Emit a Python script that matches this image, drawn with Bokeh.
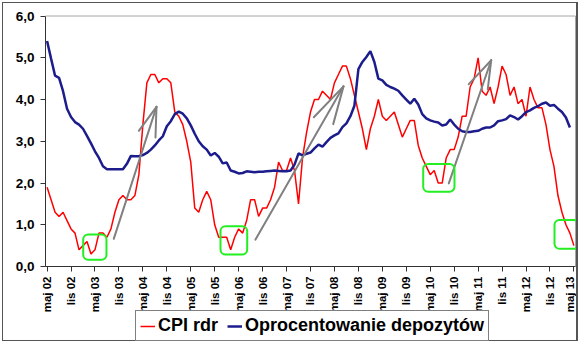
import numpy as np
from bokeh.plotting import figure
from bokeh.models import (Range1d, FixedTicker, BoxAnnotation, Legend, LegendItem)
from bokeh.embed import file_html
from bokeh.resources import INLINE

# ---------------- data ----------------
tick_labels = ["maj 02", "lis 02", "maj 03", "lis 03", "maj 04", "lis 04",
               "maj 05", "lis 05", "maj 06", "lis 06", "maj 07", "lis 07",
               "maj 08", "lis 08", "maj 09", "lis 09", "maj 10", "lis 10",
               "maj 11", "lis 11", "maj 12", "lis 12", "maj 13"]

# CPI r/r, monthly from May 2002
cpi = [1.9, 1.6, 1.3, 1.2, 1.3, 1.1, 0.9, 0.8, 0.4, 0.5,
       0.6, 0.3, 0.4, 0.8, 0.8, 0.7, 0.9, 1.3, 1.6, 1.7,
       1.6, 1.6, 1.7, 2.2, 3.4, 4.4, 4.6, 4.6, 4.4, 4.5,
       4.5, 4.4, 3.7, 3.6, 3.4, 3.0, 2.5, 1.4, 1.3, 1.6,
       1.8, 1.6, 1.0, 0.7, 0.7, 0.7, 0.4, 0.7, 0.9, 0.8,
       1.1, 1.6, 1.6, 1.2, 1.4, 1.4, 1.6, 1.9, 2.5, 2.3,
       2.3, 2.6, 2.3, 1.5, 2.6, 3.2, 3.7, 4.0, 4.0, 4.2,
       4.1, 4.0, 4.4, 4.6, 4.8, 4.8, 4.5, 4.1, 3.7, 3.3,
       2.8, 3.3, 3.6, 4.0, 3.6, 3.5, 3.6, 3.7, 3.4, 3.1,
       3.3, 3.5, 3.5, 2.9, 2.6, 2.4, 2.2, 2.3, 2.0, 2.0,
       2.6, 2.8, 2.8, 3.1, 3.6, 3.6, 4.3, 4.5, 5.0, 4.2,
       4.1, 4.3, 3.9, 4.3, 4.8, 4.6, 4.1, 4.3, 3.9, 4.0,
       3.6, 4.3, 4.0, 3.8, 3.8, 3.4, 2.8, 2.4, 1.7, 1.3,
       1.0, 0.8, 0.5]

# deposit interest rate, monthly from May 2002
dep = [5.4, 4.98, 4.57, 4.52, 4.2, 3.78, 3.58, 3.46, 3.4, 3.3,
       3.13, 2.95, 2.76, 2.6, 2.4, 2.33, 2.33, 2.33, 2.33, 2.33,
       2.46, 2.65, 2.64, 2.64, 2.67, 2.72, 2.8, 2.9, 3.02, 3.12,
       3.36, 3.48, 3.65, 3.71, 3.66, 3.55, 3.38, 3.18, 3.0, 2.88,
       2.8, 2.66, 2.72, 2.63, 2.47, 2.49, 2.3, 2.27, 2.23, 2.24,
       2.28, 2.27, 2.26, 2.27, 2.27, 2.28, 2.29, 2.3, 2.29, 2.28,
       2.28, 2.3, 2.44, 2.71, 2.66, 2.7, 2.73, 2.83, 2.92, 2.87,
       2.98, 3.08, 3.14, 3.19, 3.34, 3.43, 3.6, 3.85, 4.73, 4.9,
       5.02, 5.16, 4.9, 4.5, 4.46, 4.35, 4.3, 4.26, 4.21, 4.1,
       4.0, 3.9, 4.02, 3.88, 3.65, 3.55, 3.5, 3.47, 3.45, 3.38,
       3.4, 3.52, 3.4, 3.3, 3.24, 3.22, 3.22, 3.24, 3.25, 3.3,
       3.33, 3.33, 3.38, 3.48, 3.5, 3.53, 3.62, 3.58, 3.52, 3.6,
       3.7, 3.74, 3.8, 3.84, 3.9, 3.93, 3.85, 3.87, 3.78, 3.7,
       3.57, 3.33]

# grey arrows (month index, value): tail -> tip, plus the two barb ends
arrow_tail_x = [16.71, 52.22, 100.65]
arrow_tail_y = [0.662, 0.645, 1.991]
arrow_tip_x = [27.41, 74.27, 111.28]
arrow_tip_y = [3.825, 4.315, 4.941]
barb1_x = [22.98, 66.83, 105.66]
barb1_y = [3.251, 3.574, 4.368]
barb2_x = [27.16, 71.69, 110.42]
barb2_y = [3.091, 3.411, 4.248]

# green rounded boxes (month index, value)
box_left = [9.05, 43.45, 94.24, 127.14]
box_right = [14.88, 50.14, 102.08, 133.2]
box_bottom = [0.16, 0.287, 1.793, 0.423]
box_top = [0.765, 0.963, 2.455, 1.116]

# plot area extent (month index, value)
area_x = (-0.4, 132.4)
area_y = (0, 6)

# ---------------- figure ----------------
FONT = "Liberation Sans"

p = figure(width=576, height=339, output_backend="svg", toolbar_location=None,
           x_range=Range1d(-10.92, 133.4), y_range=Range1d(-1.82, 6.3),
           min_border_left=0, min_border_right=0, min_border_top=0,
           min_border_bottom=0,
           styles={"border": "1px solid #555555",
                   "border-right": "2px solid #555555",
                   "margin-left": "2px", "margin-top": "2px"})
p.background_fill_color = "white"
p.border_fill_color = "white"
p.outline_line_color = None
p.xgrid.visible = False
p.ygrid.visible = False

# plot-area border (top and right, light grey)
p.segment(x0=[area_x[0], area_x[1]], y0=[area_y[1], area_y[0]],
          x1=[area_x[1], area_x[1]], y1=[area_y[1], area_y[1]],
          line_color="#a6a6a6", line_width=1)

months_cpi = np.arange(len(cpi))
months_dep = np.arange(len(dep))

r_cpi = p.line(months_cpi, cpi, line_color="#ff0000", line_width=1.5)
r_dep = p.line(months_dep, dep, line_color="#1c1c8c", line_width=2.5)

# arrows
seg_x0 = arrow_tail_x + arrow_tip_x + arrow_tip_x
seg_y0 = arrow_tail_y + arrow_tip_y + arrow_tip_y
seg_x1 = arrow_tip_x + barb1_x + barb2_x
seg_y1 = arrow_tip_y + barb1_y + barb2_y
p.segment(x0=seg_x0, y0=seg_y0, x1=seg_x1, y1=seg_y1,
          line_color="#808080", line_width=2, line_cap="round")

# green boxes
for l, r, b, t in zip(box_left, box_right, box_bottom, box_top):
    p.add_layout(BoxAnnotation(left=l, right=r, bottom=b, top=t,
                               fill_alpha=0, line_color="#22ee22",
                               line_alpha=1, line_width=2, border_radius=5))

# axes
ticks = list(range(0, 6 * len(tick_labels), 6))
p.xaxis.ticker = FixedTicker(ticks=ticks)
p.xaxis.major_label_overrides = {t: lab for t, lab in zip(ticks, tick_labels)}
p.xaxis.major_label_orientation = np.pi / 2
p.xaxis.bounds = area_x
p.xaxis.fixed_location = area_y[0]
p.yaxis.ticker = FixedTicker(ticks=[0, 1, 2, 3, 4, 5, 6])
p.yaxis.major_label_overrides = {i: f"{i},0" for i in range(7)}
p.yaxis.bounds = area_y
p.yaxis.fixed_location = area_x[0]

for ax in (p.xaxis[0], p.yaxis[0]):
    ax.axis_line_color = "#333333"
    ax.major_tick_line_color = "#333333"
    ax.major_tick_out = 5
    ax.major_tick_in = 0
    ax.minor_tick_out = 0
    ax.minor_tick_in = 0
    ax.major_label_text_font = FONT
    ax.major_label_text_font_style = "bold"
    ax.major_label_text_color = "black"
p.xaxis.major_label_text_font_size = "11.5px"
p.xaxis.major_label_standoff = 5
p.yaxis.major_label_text_font_size = "13.5px"
p.yaxis.major_label_standoff = 6

# legend (inside the extended frame, below the axis labels)
legend = Legend(items=[LegendItem(label="CPI rdr", renderers=[r_cpi]),
                       LegendItem(label="Oprocentowanie depozytów", renderers=[r_dep])],
                location=(132, 1), orientation="horizontal",
                label_text_font=FONT, label_text_font_style="bold",
                label_text_font_size="18px", label_text_color="black",
                glyph_width=15, glyph_height=18, label_height=18,
                label_standoff=3, spacing=9, padding=4, margin=0,
                border_line_color="black", border_line_width=1,
                background_fill_color="white", background_fill_alpha=1)
p.add_layout(legend)

open("out.html", "w").write(file_html(p, INLINE))
